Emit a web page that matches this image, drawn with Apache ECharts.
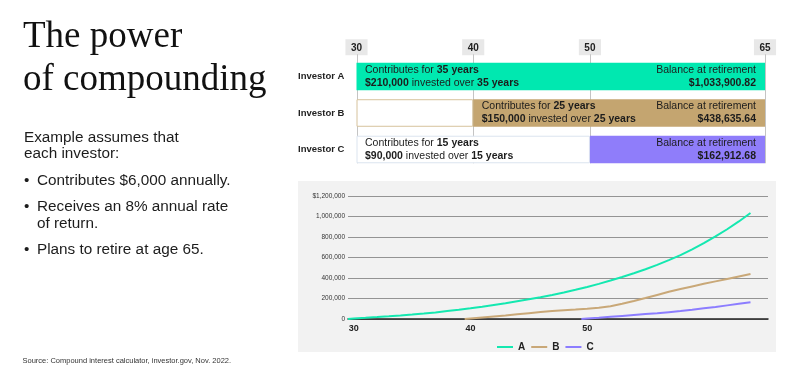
<!DOCTYPE html>
<html><head><meta charset="utf-8">
<script src="https://cdn.jsdelivr.net/npm/echarts@6/dist/echarts.min.js"></script>
<style>html,body{margin:0;padding:0;background:#fff}#c{width:800px;height:386px}</style>
</head><body><div id="c"></div>
<script>
// ---------- Data: timeline ----------
const investors = ['Investor A', 'Investor B', 'Investor C'];
const startAges = [30, 40, 50];
const retireAge = 65;
const contribYears = [35, 25, 15];
const investedTotals = ['$210,000', '$150,000', '$90,000'];
const balances = ['$1,033,900.82', '$438,635.64', '$162,912.68'];
const timelineTicks = [30, 40, 50, 65];

// ---------- Data: growth lines ----------
const agesA = [29.5, 30, 31, 32, 33, 34, 35, 36, 37, 38, 39, 40, 41, 42, 43, 44, 45, 46, 47, 48, 49, 50, 51, 52, 53, 54, 55, 56, 57, 58, 59, 60, 61, 62, 63, 64];
const valuesA = [0, 6000, 12480, 19462, 27036, 35200, 44016, 53537, 63820, 77000, 90000, 104000, 120000, 137000, 154000, 173000, 192000, 212500, 234700, 258700, 284600, 312500, 342700, 375400, 409600, 446600, 485700, 528100, 574000, 623796, 679699, 740075, 805281, 875704, 951760, 1033901];
const agesB = [39.5, 40, 41, 42, 43, 44, 45, 46, 47, 48, 49, 50, 51, 52, 53, 54, 55, 56, 57, 58, 59, 60, 61, 62, 63, 64];
const valuesB = [0, 5000, 15000, 25000, 35000, 46000, 57000, 68000, 77000, 85000, 92000, 100000, 110000, 124000, 148000, 176000, 205000, 235000, 265000, 292000, 318000, 343000, 367000, 391000, 415000, 438636];
const agesC = [49.5, 50, 51, 52, 53, 54, 55, 56, 57, 58, 59, 60, 61, 62, 63, 64];
const valuesC = [0, 4000, 12000, 21000, 30000, 39000, 48000, 57000, 67000, 77000, 90000, 104000, 118000, 133000, 148000, 162913];
const seriesNames = ['A', 'B', 'C'];
const lineXLabels = [30, 40, 50];
const yTickLabels = ['0', '200,000', '400,000', '600,000', '800,000', '1,000,000', '$1,200,000'];

// ---------- Styles ----------
const fillColors = ['#00e8b0', '#c4a570', '#8f7dfa'];
const outlineColors = ['#00e8b0', '#d6c29c', '#dbe4ef'];
const lineColors = ['#14e8b0', '#c9a878', '#8c7dff'];
const SANS = 'Liberation Sans, Arial, sans-serif';
const SERIF = 'Liberation Serif, Times New Roman, serif';
const INK = '#1c1c1c';

// segments built from the timeline arrays: [row, fromAge, toAge, kind] kind 0 = filled, 1 = outline
const segments = [];
investors.forEach((n, i) => {
  if (startAges[i] > timelineTicks[0]) segments.push([i, timelineTicks[0], startAges[i], 1]);
  segments.push([i, startAges[i], retireAge, 0]);
});

const rich = {
  r: { fontSize: 10.5, fontFamily: SANS, fill: INK, lineHeight: 12.8 },
  b: { fontSize: 10.5, fontFamily: SANS, fontWeight: 'bold', fill: INK, lineHeight: 12.8 }
};

function renderBars(params, api) {
  const row = api.value(0), a0 = api.value(1), a1 = api.value(2), kind = api.value(3);
  const p0 = api.coord([a0, row]);
  const p1 = api.coord([a1, row]);
  const band = api.size([0, 1])[1];
  const h = band * 0.755;
  const children = [];
  if (kind === 1) {
    children.push({ type: 'rect', shape: { x: p0[0] + 0.5, y: p0[1] - h / 2 + 0.5, width: p1[0] - p0[0] - 1, height: h - 1 },
      style: { fill: '#ffffff', stroke: outlineColors[row], lineWidth: 1 } });
  } else {
    children.push({ type: 'rect', shape: { x: p0[0], y: p0[1] - h / 2, width: p1[0] - p0[0], height: h },
      style: { fill: fillColors[row] } });
    children.push({ type: 'text', x: p1[0] - 9, y: p0[1],
      style: { text: '{r|Balance at retirement}\n{b|' + balances[row] + '}', rich: rich, align: 'right', verticalAlign: 'middle' } });
  }
  const anchor = contribYears[row] >= 20 ? startAges[row] : timelineTicks[0];
  if (a0 === anchor) {
    const yrs = contribYears[row] + ' years';
    children.push({ type: 'text', x: p0[0] + 8.5, y: p0[1],
      style: { text: '{r|Contributes for }{b|' + yrs + '}\n{b|' + investedTotals[row] + '}{r| invested over }{b|' + yrs + '}',
        rich: rich, align: 'left', verticalAlign: 'middle' } });
  }
  return { type: 'group', children: children };
}

function renderTickLines(params, api) {
  const cs = params.coordSys;
  const x = Math.round(api.coord([api.value(0), 0])[0]) + 0.5;
  const band = api.size([0, 1])[1];
  const yEnd = api.coord([api.value(0), investors.length - 1])[1] + band * 0.755 / 2;
  return { type: 'line', shape: { x1: x, y1: cs.y - 4, x2: x, y2: yEnd }, style: { stroke: '#c4c4c4', lineWidth: 1 } };
}

const P = '15.3px ' + SANS;
const chart = echarts.init(document.getElementById('c'), null, { renderer: 'canvas' });
chart.setOption({
  animation: false,
  backgroundColor: '#ffffff',
  graphic: { elements: [
    { type: 'rect', z: -10, shape: { x: 298, y: 181, width: 478, height: 171 }, style: { fill: '#f2f2f2' } },
    { type: 'text', x: 23, y: 37, style: { text: 'The power', font: '37px ' + SERIF, fill: '#111', verticalAlign: 'middle' } },
    { type: 'text', x: 23, y: 80, style: { text: 'of compounding', font: '37px ' + SERIF, fill: '#111', verticalAlign: 'middle' } },
    { type: 'text', x: 24, y: 137.5, style: { text: 'Example assumes that', font: P, fill: INK, verticalAlign: 'middle' } },
    { type: 'text', x: 24, y: 154, style: { text: 'each investor:', font: P, fill: INK, verticalAlign: 'middle' } },
    { type: 'text', x: 24, y: 180.5, style: { text: '•', font: P, fill: INK, verticalAlign: 'middle' } },
    { type: 'text', x: 37, y: 180.5, style: { text: 'Contributes $6,000 annually.', font: P, fill: INK, verticalAlign: 'middle' } },
    { type: 'text', x: 24, y: 206.5, style: { text: '•', font: P, fill: INK, verticalAlign: 'middle' } },
    { type: 'text', x: 37, y: 206.5, style: { text: 'Receives an 8% annual rate', font: P, fill: INK, verticalAlign: 'middle' } },
    { type: 'text', x: 37, y: 223.5, style: { text: 'of return.', font: P, fill: INK, verticalAlign: 'middle' } },
    { type: 'text', x: 24, y: 249.5, style: { text: '•', font: P, fill: INK, verticalAlign: 'middle' } },
    { type: 'text', x: 37, y: 249.5, style: { text: 'Plans to retire at age 65.', font: P, fill: INK, verticalAlign: 'middle' } },
    { type: 'text', x: 22.5, y: 360.7, style: { text: 'Source: Compound interest calculator, investor.gov, Nov. 2022.', font: '7.5px ' + SANS, fill: '#333', verticalAlign: 'middle' } }
  ] },
  grid: [
    { left: 356.5, top: 58.25, width: 408.5, height: 109.5 },
    { left: 348, top: 196, width: 420, height: 123 }
  ],
  xAxis: [
    { type: 'value', gridIndex: 0, position: 'top', min: 30, max: 65,
      axisLine: { show: false }, axisTick: { show: false }, splitLine: { show: false },
      axisLabel: { customValues: timelineTicks, margin: 3, fontFamily: SANS, fontWeight: 'bold', fontSize: 10, color: '#222',
        backgroundColor: '#e8e8e8', padding: [3, 5.5, 2, 5.5], lineHeight: 11 } },
    { type: 'value', gridIndex: 1, min: 29.5, max: 65.5,
      axisLine: { show: true, lineStyle: { color: '#222', width: 1.5 } }, axisTick: { show: false }, splitLine: { show: false },
      axisLabel: { customValues: lineXLabels, margin: 5, fontFamily: SANS, fontWeight: 'bold', fontSize: 9, color: '#222' } }
  ],
  yAxis: [
    { type: 'category', gridIndex: 0, data: investors, inverse: true,
      axisLine: { show: false }, axisTick: { show: false }, splitLine: { show: false },
      axisLabel: { align: 'left', margin: 58.5, fontFamily: SANS, fontWeight: 'bold', fontSize: 9.5, color: '#222' } },
    { type: 'value', gridIndex: 1, min: 0, max: 1200000, interval: 200000,
      axisLine: { show: false }, axisTick: { show: false },
      splitLine: { show: true, lineStyle: { color: '#949494', width: 1 } },
      axisLabel: { margin: 3, fontFamily: SANS, fontSize: 6.5, color: '#333', formatter: (v, i) => yTickLabels[i] } }
  ],
  legend: { data: seriesNames, left: 492, top: 337, icon: 'rect', itemWidth: 16, itemHeight: 2, itemGap: 6,
    textStyle: { fontFamily: SANS, fontWeight: 'bold', fontSize: 10, color: '#222' } },
  series: [
    { type: 'custom', xAxisIndex: 0, yAxisIndex: 0, z: 1, silent: true,
      data: timelineTicks.map(v => [v]), encode: { x: 0 }, renderItem: renderTickLines },
    { type: 'custom', xAxisIndex: 0, yAxisIndex: 0, z: 2, silent: true,
      data: segments, encode: { y: 0, x: [1, 2] }, renderItem: renderBars },
    { name: seriesNames[0], type: 'line', xAxisIndex: 1, yAxisIndex: 1, symbol: 'none', z: 5,
      data: agesA.map((a, i) => [a, valuesA[i]]), lineStyle: { color: lineColors[0], width: 2 }, itemStyle: { color: lineColors[0] } },
    { name: seriesNames[1], type: 'line', xAxisIndex: 1, yAxisIndex: 1, symbol: 'none', z: 4,
      data: agesB.map((a, i) => [a, valuesB[i]]), lineStyle: { color: lineColors[1], width: 2 }, itemStyle: { color: lineColors[1] } },
    { name: seriesNames[2], type: 'line', xAxisIndex: 1, yAxisIndex: 1, symbol: 'none', z: 3,
      data: agesC.map((a, i) => [a, valuesC[i]]), lineStyle: { color: lineColors[2], width: 2 }, itemStyle: { color: lineColors[2] } }
  ]
});
</script></body></html>
